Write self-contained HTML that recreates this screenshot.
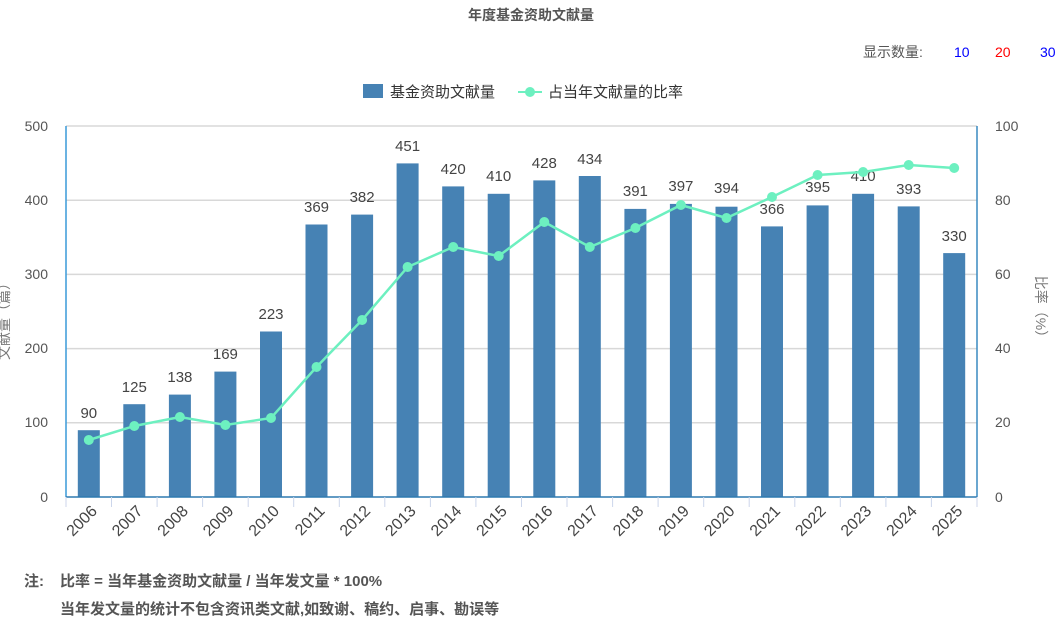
<!DOCTYPE html>
<html><head><meta charset="utf-8"><style>
body{margin:0;background:#fff;}
svg{display:block;font-family:"Liberation Sans","Noto Sans CJK SC",sans-serif;}
</style></head><body>
<svg width="1062" height="627" viewBox="0 0 1062 627">
<text x="531" y="20" text-anchor="middle" font-size="14" font-weight="bold" fill="#555">年度基金资助文献量</text>
<text x="863" y="57" font-size="14" fill="#555">显示数量:</text>
<text x="954" y="57" font-size="14" fill="#0000ff">10</text>
<text x="995" y="57" font-size="14" fill="#ff0000">20</text>
<text x="1040" y="57" font-size="14" fill="#0000ff">30</text>
<rect x="363" y="84" width="20" height="14" fill="#4682b4"/>
<text x="390" y="97" font-size="15" fill="#333">基金资助文献量</text>
<line x1="518" y1="92" x2="542" y2="92" stroke="#6df0c0" stroke-width="2"/>
<circle cx="530" cy="92" r="5" fill="#6df0c0"/>
<text x="548" y="97" font-size="15" fill="#333">占当年文献量的比率</text>
<g stroke="#d8d8d8" stroke-width="1.5">
<line x1="66" y1="126" x2="977" y2="126"/><line x1="66" y1="200.2" x2="977" y2="200.2"/>
<line x1="66" y1="274.4" x2="977" y2="274.4"/><line x1="66" y1="348.6" x2="977" y2="348.6"/>
<line x1="66" y1="422.8" x2="977" y2="422.8"/>
</g>
<g font-size="14" fill="#555" text-anchor="end">
<text x="48" y="131">500</text><text x="48" y="205">400</text><text x="48" y="279">300</text>
<text x="48" y="353">200</text><text x="48" y="427">100</text><text x="48" y="502">0</text>
</g>
<g font-size="14" fill="#555">
<text x="995" y="131">100</text><text x="995" y="205">80</text><text x="995" y="279">60</text>
<text x="995" y="353">40</text><text x="995" y="427">20</text><text x="995" y="502">0</text>
</g>
<text transform="translate(9,318) rotate(-90)" text-anchor="middle" font-size="14" fill="#777">文献量（篇）</text>
<text transform="translate(1036,310) rotate(90)" text-anchor="middle" font-size="14" fill="#777">比率（%）</text>
<g fill="#4682b4">
<rect x="77.8" y="430.2" width="22" height="66.8"/>
<rect x="123.3" y="404.2" width="22" height="92.8"/>
<rect x="168.9" y="394.6" width="22" height="102.4"/>
<rect x="214.4" y="371.6" width="22" height="125.4"/>
<rect x="260" y="331.5" width="22" height="165.5"/>
<rect x="305.5" y="224.5" width="22" height="272.5"/>
<rect x="351.1" y="214.6" width="22" height="282.4"/>
<rect x="396.6" y="163.4" width="22" height="333.6"/>
<rect x="442.2" y="186.4" width="22" height="310.6"/>
<rect x="487.7" y="193.8" width="22" height="303.2"/>
<rect x="533.3" y="180.4" width="22" height="316.6"/>
<rect x="578.8" y="176" width="22" height="321"/>
<rect x="624.4" y="208.9" width="22" height="288.1"/>
<rect x="669.9" y="203.9" width="22" height="293.1"/>
<rect x="715.5" y="206.7" width="22" height="290.3"/>
<rect x="761" y="226.4" width="22" height="270.6"/>
<rect x="806.6" y="205.4" width="22" height="291.6"/>
<rect x="852.1" y="193.8" width="22" height="303.2"/>
<rect x="897.7" y="206.4" width="22" height="290.6"/>
<rect x="943.2" y="253.1" width="22" height="243.9"/>
</g>
<g font-size="15" fill="#444" text-anchor="middle">
<text x="88.8" y="418">90</text><text x="134.3" y="392">125</text><text x="179.9" y="382">138</text>
<text x="225.4" y="359">169</text><text x="271" y="319">223</text><text x="316.5" y="212">369</text>
<text x="362.1" y="202">382</text><text x="407.6" y="151">451</text><text x="453.2" y="174">420</text>
<text x="498.7" y="181">410</text><text x="544.3" y="168">428</text><text x="589.8" y="164">434</text>
<text x="635.4" y="196">391</text><text x="680.9" y="191">397</text><text x="726.5" y="193">394</text>
<text x="772" y="214">366</text><text x="817.6" y="192">395</text><text x="863.1" y="181">410</text>
<text x="908.7" y="194">393</text><text x="954.2" y="241">330</text>
</g>
<polyline fill="none" stroke="#6df0c0" stroke-width="2.5" points="88.8,440 134.3,426 179.9,417 225.4,425 271,418 316.5,367 362.1,320 407.6,267 453.2,247 498.7,256 544.3,222 589.8,247 635.4,228 680.9,205 726.5,218 772,197 817.6,175 863.1,172 908.7,165 954.2,168"/>
<g fill="#6df0c0">
<circle cx="88.8" cy="440" r="5"/><circle cx="134.3" cy="426" r="5"/><circle cx="179.9" cy="417" r="5"/>
<circle cx="225.4" cy="425" r="5"/><circle cx="271" cy="418" r="5"/><circle cx="316.5" cy="367" r="5"/>
<circle cx="362.1" cy="320" r="5"/><circle cx="407.6" cy="267" r="5"/><circle cx="453.2" cy="247" r="5"/>
<circle cx="498.7" cy="256" r="5"/><circle cx="544.3" cy="222" r="5"/><circle cx="589.8" cy="247" r="5"/>
<circle cx="635.4" cy="228" r="5"/><circle cx="680.9" cy="205" r="5"/><circle cx="726.5" cy="218" r="5"/>
<circle cx="772" cy="197" r="5"/><circle cx="817.6" cy="175" r="5"/><circle cx="863.1" cy="172" r="5"/>
<circle cx="908.7" cy="165" r="5"/><circle cx="954.2" cy="168" r="5"/>
</g>
<line x1="66" y1="126" x2="66" y2="497" stroke="#3a9ad9" stroke-width="1.5"/>
<line x1="977" y1="126" x2="977" y2="497" stroke="#3a8ac0" stroke-width="1.5"/>
<line x1="66" y1="497" x2="977" y2="497" stroke="#2f7ab0" stroke-width="1.5"/>
<g stroke="#ccd6eb" stroke-width="1">
<line x1="66" y1="497" x2="66" y2="507"/><line x1="111.5" y1="497" x2="111.5" y2="507"/><line x1="157.1" y1="497" x2="157.1" y2="507"/>
<line x1="202.6" y1="497" x2="202.6" y2="507"/><line x1="248.2" y1="497" x2="248.2" y2="507"/><line x1="293.7" y1="497" x2="293.7" y2="507"/>
<line x1="339.3" y1="497" x2="339.3" y2="507"/><line x1="384.8" y1="497" x2="384.8" y2="507"/><line x1="430.4" y1="497" x2="430.4" y2="507"/>
<line x1="475.9" y1="497" x2="475.9" y2="507"/><line x1="521.5" y1="497" x2="521.5" y2="507"/><line x1="567" y1="497" x2="567" y2="507"/>
<line x1="612.6" y1="497" x2="612.6" y2="507"/><line x1="658.1" y1="497" x2="658.1" y2="507"/><line x1="703.7" y1="497" x2="703.7" y2="507"/>
<line x1="749.2" y1="497" x2="749.2" y2="507"/><line x1="794.8" y1="497" x2="794.8" y2="507"/><line x1="840.3" y1="497" x2="840.3" y2="507"/>
<line x1="885.9" y1="497" x2="885.9" y2="507"/><line x1="931.4" y1="497" x2="931.4" y2="507"/><line x1="977" y1="497" x2="977" y2="507"/>
</g>
<g font-size="16" fill="#444" text-anchor="end">
<text transform="translate(98,512) rotate(-45)">2006</text>
<text transform="translate(143.5,512) rotate(-45)">2007</text>
<text transform="translate(189.1,512) rotate(-45)">2008</text>
<text transform="translate(234.6,512) rotate(-45)">2009</text>
<text transform="translate(280.2,512) rotate(-45)">2010</text>
<text transform="translate(325.7,512) rotate(-45)">2011</text>
<text transform="translate(371.3,512) rotate(-45)">2012</text>
<text transform="translate(416.8,512) rotate(-45)">2013</text>
<text transform="translate(462.4,512) rotate(-45)">2014</text>
<text transform="translate(507.9,512) rotate(-45)">2015</text>
<text transform="translate(553.5,512) rotate(-45)">2016</text>
<text transform="translate(599,512) rotate(-45)">2017</text>
<text transform="translate(644.6,512) rotate(-45)">2018</text>
<text transform="translate(690.1,512) rotate(-45)">2019</text>
<text transform="translate(735.7,512) rotate(-45)">2020</text>
<text transform="translate(781.2,512) rotate(-45)">2021</text>
<text transform="translate(826.8,512) rotate(-45)">2022</text>
<text transform="translate(872.3,512) rotate(-45)">2023</text>
<text transform="translate(917.9,512) rotate(-45)">2024</text>
<text transform="translate(963.4,512) rotate(-45)">2025</text>
</g>
<text x="24" y="586" font-size="15" font-weight="bold" fill="#555">注:</text>
<text x="60" y="586" font-size="15" font-weight="bold" fill="#555">比率 = 当年基金资助文献量 / 当年发文量 * 100%</text>
<text x="60" y="614" font-size="15" font-weight="bold" fill="#555">当年发文量的统计不包含资讯类文献,如致谢、稿约、启事、勘误等</text>
</svg>
</body></html>
